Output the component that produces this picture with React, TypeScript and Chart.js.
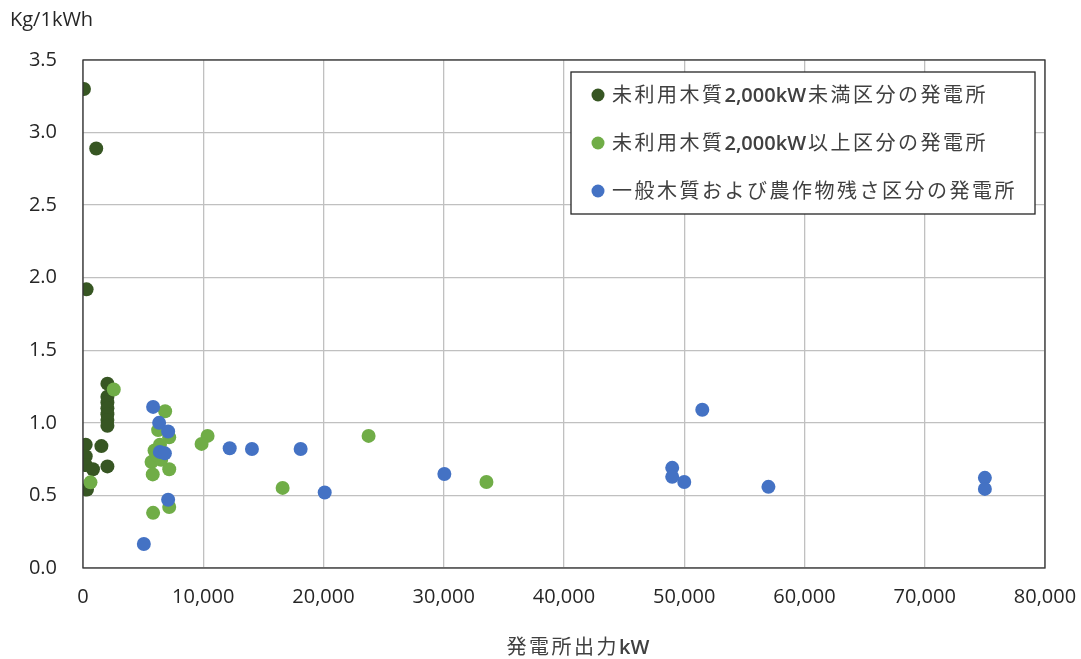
import React, { useEffect, useRef } from "react";
import { Chart, registerables } from "chart.js";

Chart.register(...registerables);

const seriesNames = [
  "未利用木質2,000kW未満区分の発電所",
  "未利用木質2,000kW以上区分の発電所",
  "一般木質および農作物残さ区分の発電所",
];
const seriesColors = ["#375623", "#70AD47", "#4472C4"];

const smallX = [80, 1100, 300, 2030, 2030, 2030, 2030, 2030, 2030, 2030, 225, 1530, 225, 225, 830, 2030, 330];
const smallY = [3.30, 2.89, 1.92, 1.27, 1.18, 1.14, 1.10, 1.06, 1.02, 0.98, 0.85, 0.84, 0.77, 0.71, 0.68, 0.70, 0.54];

const largeX = [2560, 620, 6830, 6250, 7170, 5950, 6400, 5700, 5800, 7170, 6500, 7170, 5830, 10360, 9860, 16600, 23750, 33550, 6100];
const largeY = [1.23, 0.59, 1.08, 0.95, 0.90, 0.81, 0.85, 0.73, 0.645, 0.68, 0.745, 0.42, 0.38, 0.91, 0.855, 0.552, 0.91, 0.593, 0.78];

const generalX = [5830, 6330, 7080, 6390, 6810, 7080, 5060, 12200, 14050, 18100, 20100, 30050, 49000, 49000, 50000, 51500, 57000, 75000, 75000];
const generalY = [1.11, 1.00, 0.94, 0.80, 0.79, 0.47, 0.165, 0.825, 0.82, 0.82, 0.52, 0.648, 0.69, 0.628, 0.593, 1.09, 0.559, 0.621, 0.545];

const xTitle = "発電所出力kW";
const yTitle = "Kg/1kWh";

const FONT = "'Open Sans', 'Noto Sans CJK JP', sans-serif";

const toPoints = (xs: number[], ys: number[]) => xs.map((x, i) => ({ x, y: ys[i] }));

// draw mixed text: CJK runs spaced wider, Latin runs normal
function drawMixed(ctx: any, text: string, x: number, y: number, size: number) {
  const runs: { s: string; latin: boolean }[] = [];
  for (const ch of text) {
    const latin = ch.charCodeAt(0) < 0x2000;
    const last = runs[runs.length - 1];
    if (last && last.latin === latin) last.s += ch;
    else runs.push({ s: ch, latin });
  }
  let cx = x;
  ctx.textAlign = "left";
  for (const r of runs) {
    if (r.latin) {
      ctx.font = `600 ${size}px ${FONT}`;
      ctx.letterSpacing = "0px";
    } else {
      ctx.font = `${size}px ${FONT}`;
      ctx.letterSpacing = "2.5px";
    }
    ctx.fillText(r.s, cx, y);
    cx += ctx.measureText(r.s).width + (r.latin ? 2 : 0);
  }
  ctx.letterSpacing = "0px";
  return cx - x;
}

function mixedWidth(ctx: any, text: string, size: number) {
  ctx.save();
  ctx.globalAlpha = 0;
  const w = drawMixed(ctx, text, 0, 0, size);
  ctx.restore();
  return w;
}

const decorPlugin = {
  id: "decor",
  afterDatasetsDraw(chart: any) {
    const { ctx, chartArea } = chart;
    ctx.save();
    ctx.strokeStyle = "#333333";
    ctx.lineWidth = 1.3;
    ctx.strokeRect(chartArea.left, chartArea.top, chartArea.right - chartArea.left, chartArea.bottom - chartArea.top);
    ctx.restore();
  },
  afterDraw(chart: any) {
    const { ctx } = chart;
    ctx.save();
    ctx.textBaseline = "middle";
    // axis titles
    const tw = mixedWidth(ctx, xTitle, 20);
    ctx.fillStyle = "#404040";
    drawMixed(ctx, xTitle, 579 - tw / 2, 648, 20);
    ctx.fillStyle = "#262626";
    ctx.font = `20px ${FONT}`;
    ctx.textAlign = "left";
    ctx.fillText(yTitle, 10, 20);

    // legend
    const lx = 571, ly = 72, lw = 464, lh = 142;
    ctx.fillStyle = "#ffffff";
    ctx.fillRect(lx, ly, lw, lh);
    ctx.strokeStyle = "#262626";
    ctx.lineWidth = 1.3;
    ctx.strokeRect(lx, ly, lw, lh);
    const rows = [95, 143, 191];
    seriesNames.forEach((name, i) => {
      ctx.beginPath();
      ctx.fillStyle = seriesColors[i];
      ctx.arc(598, rows[i], 6.5, 0, Math.PI * 2);
      ctx.fill();
      ctx.fillStyle = "#404040";
      ctx.textBaseline = "middle";
      drawMixed(ctx, name, 612, rows[i] + 1, 20);
    });
    ctx.restore();
  },
};

export default function App() {
  const ref = useRef<HTMLCanvasElement | null>(null);
  useEffect(() => {
    if (!ref.current) return;
    const chart = new Chart(ref.current, {
      type: "scatter",
      data: {
        datasets: [
          { label: seriesNames[0], data: toPoints(smallX, smallY), backgroundColor: seriesColors[0], borderWidth: 0, pointRadius: 7, order: 2 },
          { label: seriesNames[1], data: toPoints(largeX, largeY), backgroundColor: seriesColors[1], borderWidth: 0, pointRadius: 7, order: 1 },
          { label: seriesNames[2], data: toPoints(generalX, generalY), backgroundColor: seriesColors[2], borderWidth: 0, pointRadius: 7, order: 0 },
        ],
      },
      options: {
        animation: false,
        responsive: false,
        layout: { padding: { top: 60, right: 36, left: 0, bottom: 0 } },
        plugins: { legend: { display: false }, tooltip: { enabled: false } },
        scales: {
          x: {
            type: "linear",
            min: 0,
            max: 80000,
            ticks: {
              stepSize: 10000,
              padding: 17,
              color: "#262626",
              font: { family: FONT, size: 20 },
              callback: (v: any) => Number(v).toLocaleString("en-US"),
            },
            grid: { color: "#c0c0c0", lineWidth: 1.3, drawTicks: false },
            border: { display: false },
            afterFit: (s: any) => { s.height = 91; s.paddingLeft = 0; s.paddingRight = 0; },
          },
          y: {
            type: "linear",
            min: 0,
            max: 3.5,
            ticks: {
              stepSize: 0.5,
              padding: 26,
              color: "#262626",
              font: { family: FONT, size: 20 },
              callback: (v: any) => Number(v).toFixed(1),
            },
            grid: { color: "#c0c0c0", lineWidth: 1.3, drawTicks: false },
            border: { display: false },
            afterFit: (s: any) => { s.width = 83; s.paddingTop = 0; s.paddingBottom = 0; },
          },
        },
      },
      plugins: [decorPlugin],
    });
    return () => chart.destroy();
  }, []);
  return (
    <div style={{ position: "fixed", left: 0, top: 0, width: 1081, height: 659, background: "#fff" }}>
      <canvas ref={ref} width={1081} height={659} style={{ width: 1081, height: 659, display: "block" }} />
    </div>
  );
}
